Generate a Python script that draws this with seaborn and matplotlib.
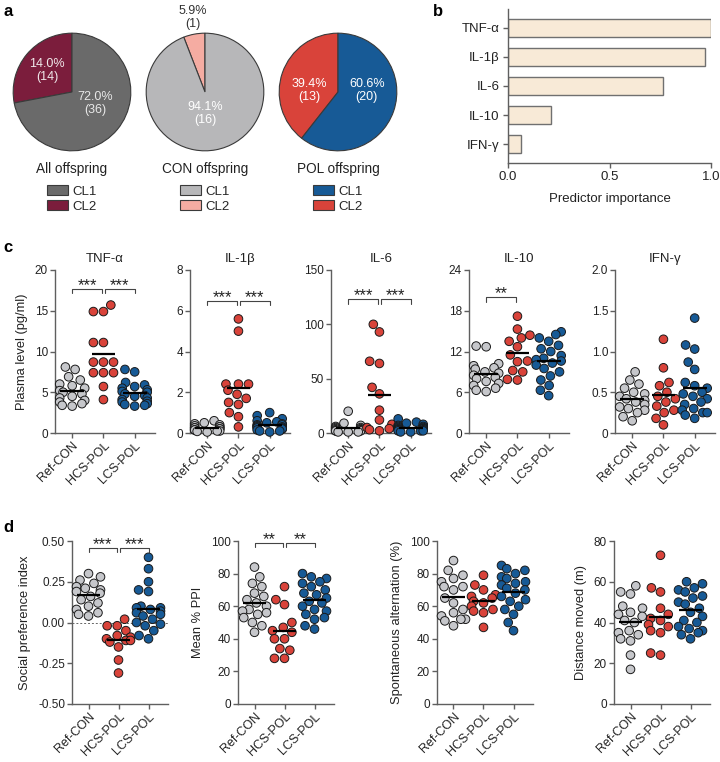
import numpy as np
import pandas as pd
import matplotlib
matplotlib.use("Agg")
import matplotlib.pyplot as plt
import seaborn as sns
from matplotlib.ticker import FuncFormatter

sns.set_theme(style="ticks")
plt.rcParams["font.family"] = ["Liberation Sans", "DejaVu Sans"]

W, H = 720, 762

# ---------------- data ----------------
groups = ["Ref-CON", "HCS-POL", "LCS-POL"]
group_cols = {"Ref-CON": "#c6c7cb", "HCS-POL": "#d9433a", "LCS-POL": "#175a96"}

# panel a: cluster membership
pie_titles = ["All offspring", "CON offspring", "POL offspring"]
pie_counts = [[14, 36], [1, 16], [13, 20]]          # CL2, CL1
pie_texts = [["14.0%\n(14)", "72.0%\n(36)"],
             ["5.9%\n(1)", "94.1%\n(16)"],
             ["39.4%\n(13)", "60.6%\n(20)"]]
pie_cols = [["#7b1d3c", "#6a6a6a"],
            ["#f5aca2", "#b7b7b9"],
            ["#d9433a", "#175a96"]]

# panel b: predictor importance
cytokines = ["TNF-α", "IL-1β", "IL-6", "IL-10", "IFN-γ"]
importance = [1.0, 0.972, 0.766, 0.214, 0.063]

# panel c: plasma cytokines (pg/ml)
tnf_ref = [8.1, 7.8, 6.9, 6.5, 6.0, 5.8, 5.5, 5.2, 5.0, 4.8, 4.5, 4.3, 4.0, 3.8, 3.6, 3.4, 3.3]
tnf_hcs = [15.7, 14.9, 14.9, 11.1, 11.1, 8.7, 8.7, 8.7, 7.4, 7.4, 7.4, 5.7, 4.1]
tnf_lcs = [7.8, 7.5, 6.2, 5.9, 5.7, 5.5, 5.3, 5.1, 5.0, 4.8, 4.6, 4.5, 4.3, 4.1, 3.9, 3.8, 3.6, 3.5, 3.4, 3.3]

il1b_ref = [0.6, 0.5, 0.45, 0.4, 0.35, 0.3, 0.3, 0.25, 0.25, 0.2, 0.2, 0.15, 0.15, 0.1, 0.1, 0.08, 0.05]
il1b_hcs = [5.6, 5.0, 2.4, 2.4, 2.4, 2.1, 1.9, 1.7, 1.5, 1.4, 1.0, 0.8, 0.3]
il1b_lcs = [1.0, 0.85, 0.7, 0.6, 0.55, 0.5, 0.45, 0.4, 0.4, 0.35, 0.3, 0.3, 0.25, 0.25, 0.2, 0.2, 0.15, 0.1, 0.1, 0.05]

il6_ref = [20, 9, 7, 6, 5, 5, 4, 4, 3, 3, 3, 2, 2, 2, 1, 1, 1]
il6_hcs = [100, 93, 66, 64, 42, 36, 21, 12, 8, 5, 4, 3, 2]
il6_lcs = [13, 10, 9, 8, 7, 6, 6, 5, 5, 4, 4, 4, 3, 3, 3, 2, 2, 2, 1, 1]

il10_ref = [12.8, 12.7, 10.2, 9.9, 9.6, 9.4, 9.0, 8.8, 8.5, 8.2, 8.0, 7.6, 7.3, 7.0, 6.6, 6.3, 6.1]
il10_hcs = [17.2, 15.3, 14.4, 14.0, 13.5, 12.7, 11.5, 10.6, 10.5, 9.2, 9.0, 7.9, 7.8]
il10_lcs = [14.9, 14.5, 14.0, 13.5, 12.9, 12.4, 12.0, 11.4, 11.0, 10.8, 10.6, 10.3, 10.0, 9.5, 9.0, 8.4, 7.8, 7.0, 6.3, 5.5]

ifng_ref = [0.75, 0.65, 0.6, 0.55, 0.5, 0.48, 0.45, 0.42, 0.4, 0.38, 0.35, 0.32, 0.3, 0.28, 0.25, 0.2, 0.15]
ifng_hcs = [1.15, 0.8, 0.62, 0.58, 0.5, 0.45, 0.42, 0.38, 0.33, 0.28, 0.25, 0.18, 0.1]
ifng_lcs = [1.41, 1.08, 1.03, 0.87, 0.78, 0.62, 0.58, 0.55, 0.5, 0.48, 0.45, 0.42, 0.38, 0.35, 0.3, 0.28, 0.25, 0.25, 0.22, 0.18]

# panel d: behaviour
spi_ref = [0.30, 0.28, 0.26, 0.24, 0.22, 0.21, 0.20, 0.19, 0.18, 0.16, 0.14, 0.12, 0.10, 0.08, 0.06, 0.05, 0.04]
spi_hcs = [0.02, -0.02, -0.02, -0.05, -0.08, -0.09, -0.10, -0.11, -0.11, -0.12, -0.15, -0.23, -0.31]
spi_lcs = [0.40, 0.33, 0.25, 0.20, 0.19, 0.10, 0.09, 0.09, 0.08, 0.07, 0.06, 0.05, 0.04, 0.02, 0.0, -0.01, -0.02, -0.05, -0.08, -0.10]

ppi_ref = [84, 78, 74, 72, 68, 66, 64, 62, 60, 58, 57, 56, 55, 53, 50, 48, 44]
ppi_hcs = [72, 64, 61, 50, 47, 45, 44, 40, 40, 34, 33, 28, 28]
ppi_lcs = [80, 78, 77, 75, 74, 72, 70, 68, 67, 65, 63, 62, 60, 58, 57, 55, 53, 52, 48, 46]

alt_ref = [88, 82, 79, 77, 75, 72, 72, 70, 65, 62, 58, 56, 54, 52, 52, 51, 48]
alt_hcs = [79, 73, 70, 67, 66, 65, 63, 62, 60, 58, 57, 56, 47]
alt_lcs = [85, 83, 82, 80, 78, 77, 75, 74, 73, 71, 70, 68, 66, 64, 63, 60, 58, 55, 50, 45]

dist_ref = [58, 55, 54, 48, 47, 45, 44, 43, 41, 40, 36, 35, 34, 32, 31, 24, 17]
dist_hcs = [73, 57, 55, 47, 44, 42, 41, 39, 38, 36, 35, 25, 24]
dist_lcs = [60, 59, 57, 56, 55, 53, 52, 50, 49, 47, 45, 43, 41, 40, 38, 37, 36, 35, 34, 32]

# panel specs: title, ylabel, data, ylim, ticks, significance, bracket level
c_panels = [
    ("TNF-α", "Plasma level (pg/ml)", (tnf_ref, tnf_hcs, tnf_lcs), (0, 20), [0, 5, 10, 15, 20],
     [(0, 1, "***"), (1, 2, "***")], 17.7),
    ("IL-1β", "", (il1b_ref, il1b_hcs, il1b_lcs), (0, 8), [0, 2, 4, 6, 8],
     [(0, 1, "***"), (1, 2, "***")], 6.5),
    ("IL-6", "", (il6_ref, il6_hcs, il6_lcs), (0, 150), [0, 50, 100, 150],
     [(0, 1, "***"), (1, 2, "***")], 123),
    ("IL-10", "", (il10_ref, il10_hcs, il10_lcs), (0, 24), [0, 6, 12, 18, 24],
     [(0, 1, "**")], 20.0),
    ("IFN-γ", "", (ifng_ref, ifng_hcs, ifng_lcs), (0, 2), [0, 0.5, 1.0, 1.5, 2.0],
     [], None),
]
d_panels = [
    ("", "Social preference index", (spi_ref, spi_hcs, spi_lcs), (-0.5, 0.5), [-0.5, -0.25, 0, 0.25, 0.5],
     [(0, 1, "***"), (1, 2, "***")], 0.46),
    ("", "Mean % PPI", (ppi_ref, ppi_hcs, ppi_lcs), (0, 100), [0, 20, 40, 60, 80, 100],
     [(0, 1, "**"), (1, 2, "**")], 99),
    ("", "Spontaneous alternation (%)", (alt_ref, alt_hcs, alt_lcs), (0, 100), [0, 20, 40, 60, 80, 100],
     [], None),
    ("", "Distance moved (m)", (dist_ref, dist_hcs, dist_lcs), (0, 80), [0, 20, 40, 60, 80],
     [], None),
]

SPINE = "#5f5f5f"
TXT = "#222222"

fig = plt.figure(figsize=(W / 100, H / 100), dpi=100)


def px_axes(left, top, width, height):
    return fig.add_axes([left / W, 1 - (top + height) / H, width / W, height / H])


def style_axes(ax, size=8.5):
    sns.despine(ax=ax)
    for sp in ["left", "bottom"]:
        ax.spines[sp].set_color(SPINE)
        ax.spines[sp].set_linewidth(1.0)
    ax.tick_params(colors=SPINE, labelcolor=TXT, length=3.5, width=1.0, labelsize=size, pad=1.5)


def dot_panel(ax, spec):
    title, ylabel, data, ylim, ticks, sigs, ylev = spec
    df = pd.DataFrame({
        "group": np.repeat(groups, [len(d) for d in data]),
        "value": np.concatenate(data),
    })
    sns.swarmplot(data=df, x="group", y="value", hue="group", order=groups, palette=group_cols,
                  size=6.2, edgecolor="#1a1a1a", linewidth=0.7, legend=False, ax=ax, warn_thresh=1)
    for coll in ax.collections:
        coll.set_clip_on(False)
    means = df.groupby("group")["value"].mean()
    for i, g in enumerate(groups):
        ax.hlines(means[g], i - 0.38, i + 0.38, color="black", lw=1.6, zorder=10)
    ax.set_xlim(-0.55, 2.65)
    ax.set_ylim(*ylim)
    ax.set_yticks(ticks)
    style_axes(ax)
    ax.set_xlabel("")
    ax.set_ylabel(ylabel, fontsize=9.3, color=TXT, labelpad=5)
    ax.set_xticks(range(3))
    ax.set_xticklabels(groups, rotation=45, ha="right", rotation_mode="anchor", fontsize=9)
    if title:
        ax.set_title(title, fontsize=9.5, color=TXT, pad=6)
    h = 0.028 * (ylim[1] - ylim[0])
    for a, b, lab in sigs:
        x1 = a + (0.04 if a == 1 else 0)
        x2 = b - (0.04 if b == 1 else 0)
        ax.plot([x1, x1, x2, x2], [ylev - h, ylev, ylev, ylev - h], color="#444444", lw=0.8, clip_on=False)
        ax.text((x1 + x2) / 2, ylev - 0.9 * h, lab, ha="center", va="bottom", fontsize=12, color=TXT)


# ---------------- panel a ----------------
pie_centres = [(72, 92), (205, 92), (338, 92)]
text_pos = [[(-0.42, 0.36), (0.39, -0.2)],
            [(-0.2, 1.27), (0.0, -0.36)],
            [(-0.48, 0.03), (0.49, 0.03)]]
text_cols = [["#f0e8ea", "#e8e8e8"], ["#333333", "#ffffff"], ["#ffffff", "#ffffff"]]
for k, (cx, cy) in enumerate(pie_centres):
    ax = px_axes(cx - 60, cy - 60, 120, 120)
    wedges, _ = ax.pie(pie_counts[k], colors=pie_cols[k], startangle=90, counterclock=True,
                       wedgeprops=dict(edgecolor="#3a3a3a", linewidth=0.8))
    ax.set_xlim(-1.02, 1.02)
    ax.set_ylim(-1.02, 1.02)
    ax.set_aspect("equal")
    for t, (tx, ty), tc in zip(pie_texts[k], text_pos[k], text_cols[k]):
        ax.text(tx, ty, t, ha="center", va="center", fontsize=9, color=tc, linespacing=1.1)
    ax.text(0.5, -0.14, pie_titles[k], transform=ax.transAxes, ha="center", va="center",
            fontsize=9.8, color=TXT)
    ax.legend([wedges[1], wedges[0]], ["CL1", "CL2"], loc="upper center", bbox_to_anchor=(0.5, -0.23),
              frameon=False, fontsize=9.5, handlelength=1.6, handleheight=0.8, labelspacing=0.2,
              handletextpad=0.35, borderaxespad=0)

# ---------------- panel b ----------------
axb = px_axes(508, 9, 203, 154)
sns.barplot(x=importance, y=cytokines, orient="h", color="#fdebd2", edgecolor="#707070",
            linewidth=1.0, width=0.63, ax=axb)
axb.set_xlim(0, 1.0)
axb.set_ylim(4.65, -0.65)
axb.set_xticks([0, 0.5, 1.0])
axb.set_xticklabels(["0.0", "0.5", "1.0"])
style_axes(axb, size=9.5)
axb.tick_params(pad=2.5)
axb.set_xlabel("Predictor importance", fontsize=9.5, color=TXT, labelpad=7)

# ---------------- panel c ----------------
c_lefts = [55, 190, 331, 469, 615]
for left, spec in zip(c_lefts, c_panels):
    ax = px_axes(left, 270, 100, 163)
    dot_panel(ax, spec)
    if spec[3][1] == 2:
        ax.yaxis.set_major_formatter(FuncFormatter(lambda v, p: "0" if v == 0 else f"{v:.1f}"))

# ---------------- panel d ----------------
d_lefts = [72, 238, 437, 614]
for left, spec in zip(d_lefts, d_panels):
    ax = px_axes(left, 541, 96, 163)
    dot_panel(ax, spec)
    if spec[3][0] < 0:
        ax.yaxis.set_major_formatter(FuncFormatter(lambda v, p: f"{v:.2f}"))
        ax.axhline(0, color="#666666", lw=0.7, ls=(0, (2, 2)), zorder=0)

# panel letters
for lab, x, y in [("a", 3, 12), ("b", 433, 12), ("c", 3, 248), ("d", 3, 527)]:
    fig.text(x / W, 1 - y / H, lab, fontsize=12, fontweight="bold", color="black", va="center")

fig.savefig("out.png", dpi=100)
